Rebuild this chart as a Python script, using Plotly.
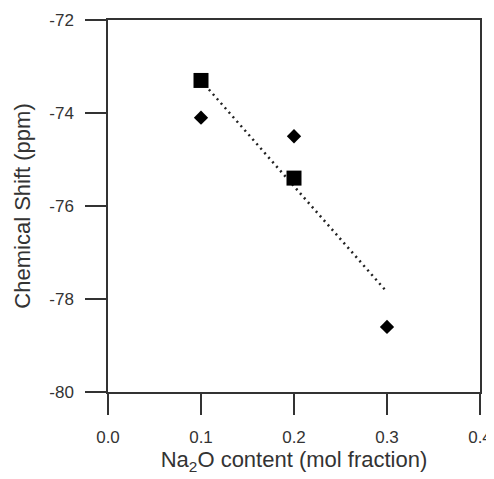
import plotly.graph_objects as go

# Data
square_x = [0.1, 0.2]
square_y = [-73.3, -75.4]
diamond_x = [0.1, 0.2, 0.3]
diamond_y = [-74.1, -74.5, -78.6]
fit_x = [0.1, 0.3]
fit_y = [-73.3, -77.85]

x_ticks = [0.0, 0.1, 0.2, 0.3, 0.4]
y_ticks = [-72, -74, -76, -78, -80]

FONT = "Liberation Sans, Arial, sans-serif"

fig = go.Figure()
fig.add_trace(go.Scatter(x=fit_x, y=fit_y, mode="lines",
                         line=dict(color="#222", width=2.5, dash="2px,4px"),
                         showlegend=False))
fig.add_trace(go.Scatter(x=diamond_x, y=diamond_y, mode="markers",
                         marker=dict(symbol="diamond", size=11, color="black"),
                         showlegend=False))
fig.add_trace(go.Scatter(x=square_x, y=square_y, mode="markers",
                         marker=dict(symbol="square", size=15, color="black"),
                         showlegend=False))

axis_common = dict(showgrid=False, zeroline=False, showline=True, mirror=True,
                   automargin=False,
                   linecolor="#333", linewidth=1.5, ticks="outside", ticklen=21,
                   tickwidth=1.5, tickcolor="#333",
                   tickfont=dict(family=FONT, size=17, color="#333"))

fig.update_xaxes(range=[0, 0.4], tickvals=x_ticks,
                 ticktext=[f"{v:.1f}" for v in x_ticks],
                 ticklabelstandoff=8,
                 title=dict(text="Na<sub>2</sub>O content (mol fraction)",
                            font=dict(family=FONT, size=22, color="#333"),
                            standoff=2),
                 **axis_common)
fig.update_yaxes(range=[-80, -72], tickvals=y_ticks,
                 ticktext=[str(v) for v in y_ticks],
                 ticklabelstandoff=8,
                 title=dict(text="Chemical Shift (ppm)",
                            font=dict(family=FONT, size=22, color="#333"),
                            standoff=13),
                 **axis_common)

# the page body adds an 8px offset, so the figure is 8px smaller and margins shifted
fig.update_layout(template="none", width=486, height=471,
                  margin=dict(l=100, r=14, t=12, b=87, autoexpand=False),
                  plot_bgcolor="white", paper_bgcolor="white")
fig.write_html("out.html")
